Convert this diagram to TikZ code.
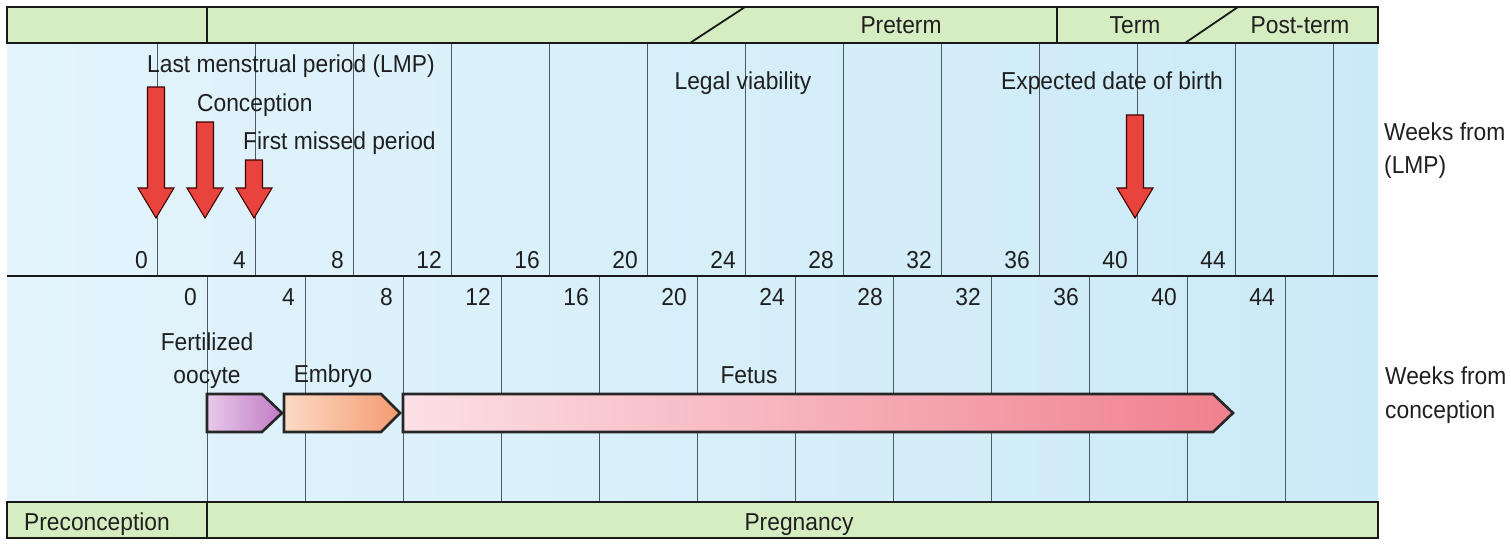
\documentclass[tikz,border=0pt]{standalone}
\usepackage{fontspec}
\setmainfont{Liberation Sans}[FakeStretch=0.93]

\definecolor{barGreen}{HTML}{D6EDC1}
\definecolor{panelL}{HTML}{E3F4FC}
\definecolor{panelR}{HTML}{CBEAF7}
\definecolor{gridGray}{HTML}{4E5A60}
\definecolor{arrowRed}{HTML}{E8433D}
\definecolor{oocyteL}{HTML}{E6CAE9}
\definecolor{oocyteR}{HTML}{C27BC5}
\definecolor{embryoL}{HTML}{FCDAC6}
\definecolor{embryoR}{HTML}{F49B70}
\definecolor{fetusL}{HTML}{FCE0E6}
\definecolor{fetusR}{HTML}{F0808D}

% 下向きの赤矢印: #1 = x, #2 = 上端 y
\newcommand{\redarr}[2]{%
    \draw[redarrow] ({#1-8.5},#2) -- ({#1+8.5},#2) -- ({#1+8.5},188)
        -- ({#1+18},188) -- (#1,218) -- ({#1-18},188) -- ({#1-8.5},188) -- cycle;}

% 段階の矢印: #1 = 左端, #2 = 本体右端, #3 = 先端, #4/#5 = 色
\newcommand{\stagearr}[5]{%
    \draw[stage, left color=#4, right color=#5] (#1,394) -- (#2,394)
        -- (#3,413) -- (#2,432) -- (#1,432) -- cycle;}

\begin{document}
\begin{tikzpicture}[x=1pt, y=-1pt,
    lbl/.style={font=\fontsize{24.5}{28}\selectfont, inner sep=0pt, text=black!88},
    gridline/.style={gridGray, line width=1pt},
    bar/.style={fill=barGreen, draw=black!90, line width=2.2pt},
    barline/.style={black!90, line width=1.8pt},
    redarrow/.style={fill=arrowRed, draw=black!75!red, line width=1.1pt},
    stage/.style={draw=black!85, line width=2.6pt, line join=miter}]
    \useasboundingbox (0,0) rectangle (1511,544);

    % 背景パネル
    \shade[left color=panelL, right color=panelR] (7,43) rectangle (1378,502);

    % -------------------------------------------------------------
    % 目盛線と週数 (上: 最終月経から, 下: 受精から)
    % -------------------------------------------------------------
    \foreach \k in {0,...,12}
        \draw[gridline] ({157+98*\k},43) -- ({157+98*\k},276);
    \foreach \k in {0,...,11}
        \draw[gridline] ({207+98*\k},276) -- ({207+98*\k},502);

    \foreach \k in {0,...,11} {
        \pgfmathtruncatemacro\w{4*\k}
        \node[lbl, anchor=base east] (wl\k) at ({157+98*\k-9},268) {\w};
        \node[lbl, anchor=base east] (wc\k) at ({207+98*\k-10},305) {\w};
    }

    % 区切り線
    \draw[gray!20!black, line width=2.6pt] (7,276) -- (1378,276);

    % -------------------------------------------------------------
    % 上の帯 (早産・正期産・過期産)
    % -------------------------------------------------------------
    \draw[bar] (7,7) rectangle (1378,43);
    \draw[barline] (207,7) -- (207,43);
    \draw[barline] (1057,7) -- (1057,43);
    \draw[barline] (745,7) -- (690,43);
    \draw[barline] (1238,7) -- (1185,43);
    \node[lbl, anchor=base] (preterm) at (901,33) {Preterm};
    \node[lbl, anchor=base] (term) at (1135,33) {Term};
    \node[lbl, anchor=base] (postterm) at (1300,33) {Post-term};

    % 下の帯
    \draw[bar] (7,502) rectangle (1378,538);
    \draw[barline] (207,502) -- (207,538);
    \node[lbl, anchor=base] (precon) at (97,530) {Preconception};
    \node[lbl, anchor=base] (pregn) at (799,530) {Pregnancy};

    % -------------------------------------------------------------
    % 赤矢印と出来事
    % -------------------------------------------------------------
    \redarr{156}{87}
    \redarr{205}{122}
    \redarr{254}{160}
    \redarr{1135}{115}
    \node[lbl, anchor=base west] (lmp) at (147,72) {Last menstrual period (LMP)};
    \node[lbl, anchor=base west] (conc) at (197,111) {Conception};
    \node[lbl, anchor=base west] (missed) at (243,149) {First missed period};
    \node[lbl, anchor=base] (viab) at (743,89) {Legal viability};
    \node[lbl, anchor=base] (edd) at (1112,89) {Expected date of birth};

    % 発生段階
    \stagearr{207}{262}{282}{oocyteL}{oocyteR}
    \stagearr{284}{381}{400}{embryoL}{embryoR}
    \stagearr{403}{1213}{1233}{fetusL}{fetusR}
    \node[lbl, anchor=base] (oocyte1) at (207,350) {Fertilized};
    \node[lbl, anchor=base] (oocyte2) at (207,383) {oocyte};
    \node[lbl, anchor=base] (embryo) at (333,382) {Embryo};
    \node[lbl, anchor=base] (fetus) at (749,383) {Fetus};

    % 右側の軸ラベル
    \node[lbl, anchor=base west] (lmpw1) at (1384,140) {Weeks from};
    \node[lbl, anchor=base west] (lmpw2) at (1384,173) {(LMP)};
    \node[lbl, anchor=base west] (concw1) at (1385,384) {Weeks from};
    \node[lbl, anchor=base west] (concw2) at (1385,418) {conception};
\end{tikzpicture}
\end{document}
